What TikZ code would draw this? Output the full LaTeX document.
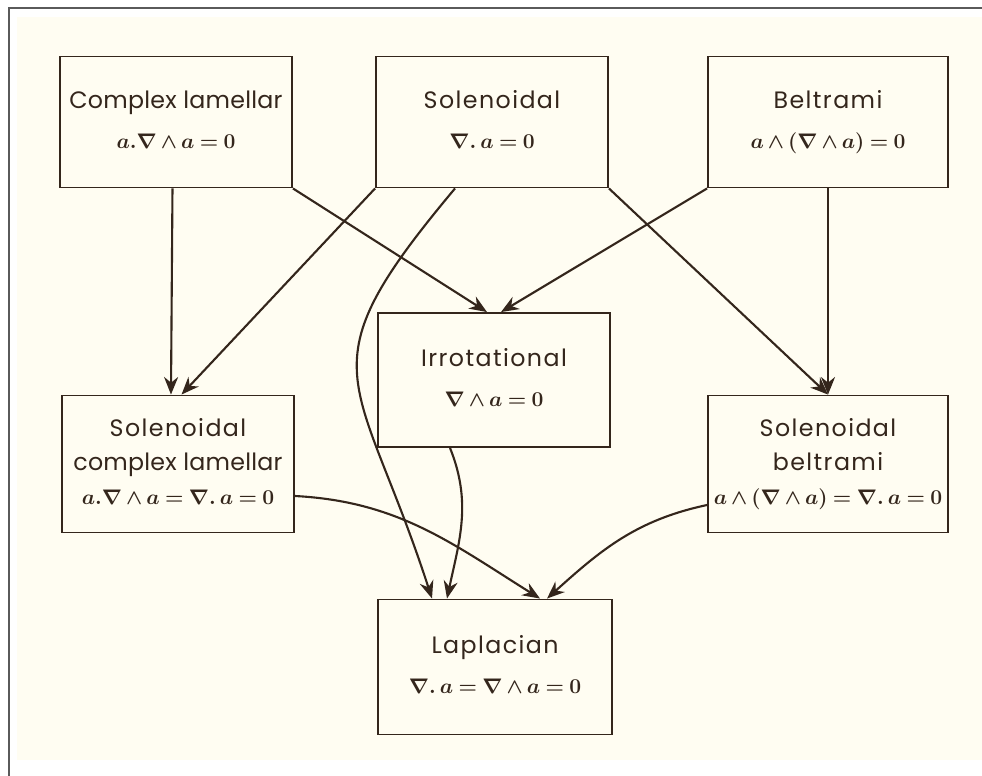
\documentclass[tikz,border=0pt]{standalone}
\usepackage{amsmath,amssymb}
\usepackage{fontspec}
\setmainfont[LetterSpace=6]{Poppins}
\usepackage{tikz}
\usetikzlibrary{arrows.meta,calc,positioning}
\definecolor{PaperCream}{RGB}{255,253,242}
\definecolor{InkBrown}{RGB}{52,38,28}
\definecolor{FrameGray}{RGB}{90,90,90}

\tikzset{
  box/.style={draw=InkBrown,line width=1.1pt,fill=PaperCream,text=InkBrown,
    minimum width=4.64cm,minimum height=2.62cm,align=center,inner xsep=1pt,
    font=\fontsize{13.5}{22.8}\selectfont},
  tallbox/.style={box,font=\fontsize{13.5}{19.5}\selectfont,minimum height=2.74cm},
  link/.style={draw=InkBrown,line width=1.2pt,-{Stealth[length=10pt,width=8pt]}}
}
\newcommand{\eqn}[1]{{\fontsize{12.5}{19}\selectfont\boldmath
  \thickmuskip=4mu\medmuskip=3mu$\mathstrut #1$}}
\newcommand{\tight}{\addfontfeature{LetterSpace=1}}

\begin{document}
\begin{tikzpicture}[x=0.02cm,y=-0.02cm]
      \useasboundingbox (0,0) rectangle (982,776);
      \fill[PaperCream] (17,17) rectangle (982,760);
      \draw[FrameGray,line width=0.8pt] (9,776) -- (9,8) -- (982,8);
      % top row
      \node[box] (cl) at (176,122) {{\tight Complex lamellar}\\\eqn{a.\nabla\wedge a=0}};
      \node[box] (sol) at (492,122) {Solenoidal\\\eqn{\nabla.\,a=0}};
      \node[box,minimum width=4.8cm] (bel) at (828,122) {Beltrami\\\eqn{a\wedge(\nabla\wedge a)=0}};
      % middle row
      \node[box,minimum height=2.68cm] (irr) at (494,380) {Irrotational\\\eqn{\nabla\wedge a=0}};
      \node[tallbox] (scl) at (178,464) {Solenoidal\\{\tight complex lamellar}\\\eqn{a.\nabla\wedge a=\nabla.\,a=0}};
      \node[tallbox,minimum width=4.8cm] (sb) at (828,464) {Solenoidal\\beltrami\\\eqn{a\wedge(\nabla\wedge a)=\nabla.\,a=0}};
      % bottom
      \node[box,minimum width=4.68cm,minimum height=2.7cm] (lap) at (495,667) {Laplacian\\\eqn{\nabla.\,a=\nabla\wedge a=0}};
      % straight links
      \draw[link] ([xshift=-2pt]cl.south) -- ([xshift=-4pt]scl.north);
      \draw[link] (cl.south east) -- ([xshift=-4pt]irr.north);
      \draw[link] (sol.south west) -- ([xshift=2pt]scl.north);
      \draw[link] (sol.south east) -- (sb.north);
      \draw[link] (bel.south west) -- ([xshift=4pt]irr.north);
      \draw[link] (bel.south) -- (sb.north);
      % curved links into Laplacian
      \draw[link] ($(sol.south)+(-37,0)$) to[out=-130,in=108,looseness=1.5] ($(lap.north)+(-63,0)$);
      \draw[link] ($(irr.south)+(-44,0)$) to[out=-68,in=78] ($(lap.north)+(-48,0)$);
      \draw[link] ($(scl.east)+(0,32)$) to[out=-3,in=148] ($(lap.north)+(45,0)$);
      \draw[link] ($(sb.west)+(0,41)$) to[out=192,in=42] ($(lap.north)+(52,0)$);
    \end{tikzpicture}
\end{document}
